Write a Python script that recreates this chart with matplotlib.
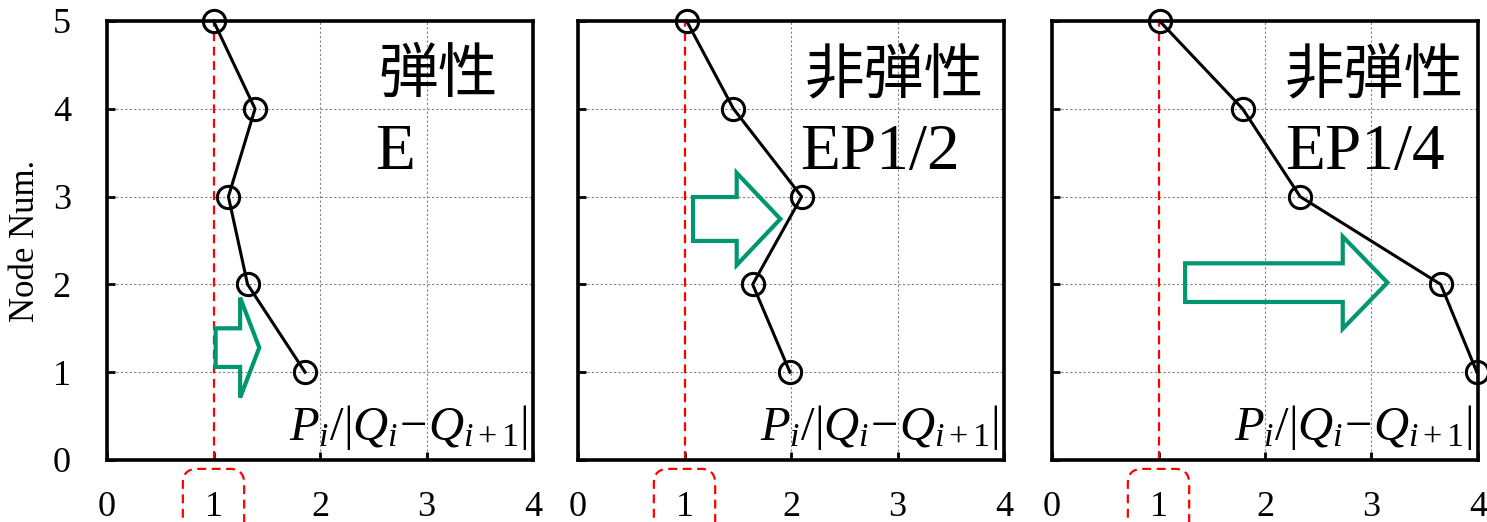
import matplotlib.pyplot as plt
import matplotlib.patches as mpatches
import numpy as np

plt.rcParams['font.family'] = ['Liberation Serif', 'Noto Sans CJK JP']
plt.rcParams['mathtext.fontset'] = 'custom'
plt.rcParams['mathtext.rm'] = 'Liberation Serif'
plt.rcParams['mathtext.it'] = 'Liberation Serif:italic'

nodes = [5, 4, 3, 2, 1]
ratio_e = [1.00, 1.39, 1.14, 1.32, 1.86]
ratio_ep2 = [1.02, 1.46, 2.10, 1.64, 1.99]
ratio_ep4 = [1.01, 1.79, 2.33, 3.65, 3.99]

titles = ['弾性', '非弾性', '非弾性']
cases = ['E', 'EP1/2', 'EP1/4']
title_x = [0.636, 0.533, 0.547]
case_x = [0.629, 0.521, 0.547]

# arrows: x start, y centre, length, body width, head width, head length
arrows = [(1.02, 1.28, 0.41, 0.44, 1.14, 0.18),
          (1.08, 2.745, 0.82, 0.50, 1.05, 0.41),
          (1.25, 2.02, 1.90, 0.44, 1.05, 0.42)]

green = '#009670'
lefts = [107, 578, 1052]

fig = plt.figure(figsize=(14.87, 5.22), dpi=100)
series = [ratio_e, ratio_ep2, ratio_ep4]

for k in range(3):
    ax = fig.add_axes([lefts[k] / 1487, 62 / 522, 426 / 1487, 439 / 522])
    ax.set_xlim(0, 4)
    ax.set_ylim(0, 5)
    ax.set_xticks([0, 1, 2, 3, 4])
    ax.set_yticks([0, 1, 2, 3, 4, 5])
    for x in [2, 3]:
        ax.axvline(x, color='gray', ls=(0, (2, 2)), lw=0.8, zorder=1)
    for y in [1, 2, 3, 4]:
        ax.axhline(y, color='gray', ls=(0, (2, 2)), lw=0.8, zorder=1)
    ax.plot([1, 1], [0, 5], color='red', ls=(0, (4, 2.5)), lw=1.6, zorder=2)

    xs, ys, L, w, hw, hl = arrows[k]
    arr = mpatches.FancyArrow(xs, ys, L, 0, width=w, head_width=hw,
                              head_length=hl, length_includes_head=True,
                              fill=False, edgecolor=green, lw=3, zorder=3,
                              joinstyle='miter')
    ax.add_patch(arr)

    ax.plot(series[k], nodes, color='black', lw=2.2, marker='o', ms=16,
            mfc='none', mec='black', mew=2.2, clip_on=False, zorder=4)

    ax.text(title_x[k], 0.875, titles[k], transform=ax.transAxes,
            fontsize=43, family=['Noto Sans CJK JP'], ha='left', va='center')
    ax.text(case_x[k], 0.699, cases[k], transform=ax.transAxes,
            fontsize=47, ha='left', va='center')
    ax.text(0.988, 0.046, r'$P_i/|Q_i\!-\!Q_{i+1}|$', transform=ax.transAxes,
            fontsize=35, ha='right', va='baseline')

    for s in ax.spines.values():
        s.set_linewidth(2.6)
    ax.tick_params(direction='in', length=6, width=2, labelsize=26)
    ax.tick_params(axis='x', pad=22)
    ax.tick_params(axis='y', pad=26)
    if k == 0:
        ax.set_ylabel('Node Num.', fontsize=25, labelpad=8)
    else:
        ax.set_yticklabels([])

    lab = ax.xaxis.get_major_ticks()[1].label1
    lab.set_bbox(dict(boxstyle='round,pad=0.6,rounding_size=0.4', fc='none',
                      ec='red', ls=(0, (4, 2.5)), lw=1.6))

fig.savefig('out.png', dpi=100)
